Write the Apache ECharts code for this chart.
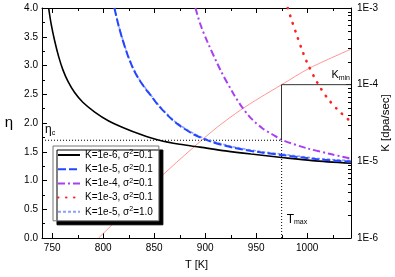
<!DOCTYPE html>
<html><head><meta charset="utf-8">
<script src="https://cdn.jsdelivr.net/npm/echarts@6/dist/echarts.min.js"></script>
<style>html,body{margin:0;padding:0;background:#fff}#c{width:395px;height:277px}</style>
</head><body><div id="c"></div>
<script>
// ---- data ----
const legendK = ['1e-6', '1e-5', '1e-4', '1e-3', '1e-5'];
const legendSigma = ['0.1', '0.1', '0.1', '0.1', '1.0'];

const T_k1e6 = [746.5, 749, 752.4, 756.4, 760.6, 765.6, 772, 780, 791.7, 805, 821, 837, 855, 875, 895, 920, 945, 975, 1005, 1043];
const eta_k1e6 = [4.00, 3.72, 3.43, 3.15, 2.92, 2.72, 2.53, 2.36, 2.19, 2.04, 1.91, 1.80, 1.70, 1.63, 1.58, 1.515, 1.46, 1.40, 1.345, 1.30];

const T_k1e5 = [811, 815, 819, 824, 829, 834, 840, 847, 853, 864, 873, 889, 905, 928, 954, 977, 1010, 1043];
const eta_k1e5 = [4.00, 3.70, 3.45, 3.18, 2.96, 2.79, 2.63, 2.47, 2.33, 2.12, 1.98, 1.80, 1.68, 1.57, 1.49, 1.44, 1.37, 1.33];
const eta_k1e5_s1 = [4.00, 3.71, 3.46, 3.19, 2.97, 2.80, 2.64, 2.48, 2.34, 2.13, 1.99, 1.815, 1.695, 1.585, 1.505, 1.455, 1.385, 1.345];

const T_k1e4 = [890.5, 895, 902, 915, 928, 936, 945, 956, 966, 976, 1000, 1023, 1043];
const eta_k1e4 = [4.00, 3.73, 3.42, 2.92, 2.50, 2.28, 2.08, 1.91, 1.80, 1.70, 1.56, 1.46, 1.38];

const T_k1e3 = [981, 985, 990, 995, 1000, 1010, 1020, 1030, 1043];
const eta_k1e3 = [4.00, 3.78, 3.52, 3.27, 3.05, 2.70, 2.43, 2.23, 2.02];

const T_kmax = [795.5, 826, 856, 888, 912, 935, 954, 975, 1003, 1043];
const K_kmax = [1e-6, 2.5e-6, 6.2e-6, 1.5e-5, 2.8e-5, 4.7e-5, 6.8e-5, 1e-4, 1.66e-4, 2.9e-4];

const T_max = 975;
const eta_c = 1.7;
const K_min = 1e-4;

const xMin = 740, xMax = 1043;
const etaMin = 0, etaMax = 4, etaStep = 0.5;
const kLow = 1e-6, kHigh = 1e-3;
const xMinorTicks = [775, 825, 875, 925, 975, 1025];
const kMinorTicks = [2e-6,3e-6,4e-6,5e-6,6e-6,7e-6,8e-6,9e-6,
                     2e-5,3e-5,4e-5,5e-5,6e-5,7e-5,8e-5,9e-5,
                     2e-4,3e-4,4e-4,5e-4,6e-4,7e-4,8e-4,9e-4];

// ---- chart ----
const FONT = 'Liberation Sans, Arial, sans-serif';
const names = legendK.map((k, i) => 'K=' + k + ', σ²=' + legendSigma[i]);
const zip = (a, b) => a.map((v, i) => [v, b[i]]);

const chart = echarts.init(document.getElementById('c'), null, {renderer: 'canvas'});

function curve(name, xs, ys, color, width, dash, z, cap) {
  return {
    name: name, type: 'line', data: zip(xs, ys), xAxisIndex: 0, yAxisIndex: 0,
    symbol: 'none', showSymbol: false, smooth: 0.3,
    lineStyle: {color: color, width: width, type: dash, cap: cap || 'butt'},
    itemStyle: {color: color}, z: z || 3, silent: true
  };
}

const axisCommon = {
  axisLine: {show: true, lineStyle: {color: '#000', width: 1}},
  axisTick: {show: true, inside: true, length: 5, lineStyle: {color: '#000'}},
  splitLine: {show: false},
  axisLabel: {color: '#000', fontSize: 10, fontFamily: FONT}
};

const option = {
  animation: false,
  backgroundColor: '#fff',
  grid: {left: 42, right: 44, top: 8, bottom: 39, containLabel: false, outerBoundsMode: 'none'},
  xAxis: [
    Object.assign({}, axisCommon, {
      type: 'value', min: xMin, max: xMax, splitNumber: 6, position: 'bottom',
      axisLabel: Object.assign({}, axisCommon.axisLabel, {margin: 5, showMinLabel: false, showMaxLabel: false,
        formatter: v => String(v)}),
      name: 'T [K]', nameLocation: 'middle', nameGap: 21, nameMoveOverlap: false,
      nameTextStyle: {color: '#000', fontSize: 11, fontFamily: FONT}
    }),
    Object.assign({}, axisCommon, {
      type: 'value', min: xMin, max: xMax, splitNumber: 6, position: 'top',
      axisLabel: {show: false}
    })
  ],
  yAxis: [
    Object.assign({}, axisCommon, {
      type: 'value', min: etaMin, max: etaMax, interval: etaStep, position: 'left',
      minorTick: {show: true, splitNumber: 2, length: 3, lineStyle: {color: '#000'}},
      minorSplitLine: {show: false},
      axisLabel: Object.assign({}, axisCommon.axisLabel, {margin: 4, formatter: v => v.toFixed(1)}),
      name: 'η', nameLocation: 'middle', nameRotate: 0, nameGap: 29,
      nameTextStyle: {color: '#000', fontSize: 15, fontFamily: FONT, padding: [12, 0, 0, 0]}
    }),
    Object.assign({}, axisCommon, {
      type: 'log', logBase: 10, min: kLow, max: kHigh, position: 'right',
      axisLabel: Object.assign({}, axisCommon.axisLabel, {margin: 6,
        formatter: v => '1E' + Math.round(Math.log10(v))}),
      name: 'K [dpa/sec]', nameLocation: 'middle', nameRotate: 90, nameGap: 29, nameMoveOverlap: false,
      nameTextStyle: {color: '#000', fontSize: 11.5, fontFamily: FONT}
    })
  ],
  legend: {
    data: names, orient: 'vertical', left: 53, top: 146,
    padding: [3, 6, 3, 4], itemWidth: 22, itemHeight: 10, itemGap: 2.2,
    backgroundColor: '#fff', borderColor: '#777', borderWidth: 1, borderRadius: 0,
    shadowColor: '#000', shadowBlur: 0, shadowOffsetX: 4, shadowOffsetY: 4,
    itemStyle: {opacity: 0},
    selectedMode: false,
    textStyle: {color: '#000', fontSize: 10, fontFamily: FONT, lineHeight: 12,
      rich: {sup: {fontSize: 7, fontFamily: FONT, color: '#000', verticalAlign: 'top', lineHeight: 12, padding: [0, 0, 4, 0]}}},
    formatter: n => n.replace('²', '{sup|2}')
  },
  series: [
    {
      name: 'Kmax', type: 'line', data: zip(T_kmax, K_kmax), xAxisIndex: 0, yAxisIndex: 1,
      symbol: 'none', smooth: 0.3, lineStyle: {color: '#ff7a7a', width: 0.8}, z: 2, silent: true
    },
    curve(names[4], T_k1e5, eta_k1e5_s1, '#8f9dff', 1.6, [3, 2], 3),
    curve(names[0], T_k1e6, eta_k1e6, '#000000', 1.6, 'solid', 4),
    curve(names[1], T_k1e5, eta_k1e5, '#2347ff', 2, [8, 3], 4),
    curve(names[2], T_k1e4, eta_k1e4, '#a93ff2', 2, [7, 3, 2, 3], 4),
    curve(names[3], T_k1e3, eta_k1e3, '#ff2222', 2.6, [0.5, 7.5], 4, 'round'),
    {
      name: 'etaC', type: 'line', data: [[xMin, eta_c], [T_max, eta_c]], xAxisIndex: 0, yAxisIndex: 0,
      symbol: 'none', lineStyle: {color: '#000', width: 1, type: [1, 2]}, z: 2, silent: true
    },
    {
      name: 'Tmax', type: 'line', data: [[T_max, etaMin], [T_max, eta_c]], xAxisIndex: 0, yAxisIndex: 0,
      symbol: 'none', lineStyle: {color: '#000', width: 1, type: [1, 2]}, z: 2, silent: true
    },
    {
      name: 'Kmin', type: 'line', data: [[T_max, K_min], [xMax, K_min]], xAxisIndex: 0, yAxisIndex: 1,
      symbol: 'none', lineStyle: {color: '#333', width: 1}, z: 2, silent: true,
      markLine: {
        silent: true, symbol: ['none', 'triangle'], symbolSize: [0, 6], label: {show: false},
        lineStyle: {color: '#333', width: 1, type: 'solid'},
        data: [[{coord: [T_max, K_min]},
                {coord: [T_max, Math.pow(10, Math.log10(kLow) + (eta_c - etaMin) / (etaMax - etaMin) * (Math.log10(kHigh) - Math.log10(kLow)))]}]]
      }
    },
    {
      name: 'xMinorTicks', type: 'custom', xAxisIndex: 0, yAxisIndex: 0, silent: true, z: 5,
      data: xMinorTicks.map(t => [t, etaMin]),
      renderItem: function (params, api) {
        const cs = params.coordSys;
        const x = Math.round(api.coord([api.value(0), etaMin])[0]) + 0.5;
        const st = {stroke: '#000', lineWidth: 1};
        return {type: 'group', children: [
          {type: 'line', shape: {x1: x, y1: cs.y + cs.height, x2: x, y2: cs.y + cs.height - 3}, style: st},
          {type: 'line', shape: {x1: x, y1: cs.y, x2: x, y2: cs.y + 3}, style: st}
        ]};
      }
    },
    {
      name: 'kMinorTicks', type: 'custom', xAxisIndex: 0, yAxisIndex: 1, silent: true, z: 5,
      data: kMinorTicks.map(k => [xMax, k]),
      renderItem: function (params, api) {
        const cs = params.coordSys;
        const y = Math.round(api.coord([api.value(0), api.value(1)])[1]) + 0.5;
        const x = cs.x + cs.width;
        return {type: 'line', shape: {x1: x, y1: y, x2: x - 3, y2: y}, style: {stroke: '#000', lineWidth: 1}};
      }
    }
  ]
};
chart.setOption(option);

// ---- annotations positioned through the axes ----
const pEta = chart.convertToPixel({xAxisIndex: 0, yAxisIndex: 0}, [xMin, eta_c]);
const pK = chart.convertToPixel({xAxisIndex: 0, yAxisIndex: 1}, [xMax, K_min]);
const pT = chart.convertToPixel({xAxisIndex: 0, yAxisIndex: 0}, [T_max, etaMin]);
chart.setOption({
  graphic: [
    {type: 'text', x: pEta[0] + 3, y: pEta[1] - 4, z: 10, silent: true,
     style: {text: '{m|η}{s|c}', verticalAlign: 'bottom', fill: '#000',
       rich: {m: {fontSize: 12, fontFamily: FONT, fill: '#000'}, s: {fontSize: 7, fontFamily: FONT, fill: '#000', padding: [6, 0, 0, 0]}}}},
    {type: 'text', x: pK[0] - 1, y: pK[1] - 3, z: 10, silent: true,
     style: {text: '{m|K}{s|min}', align: 'right', verticalAlign: 'bottom', fill: '#000',
       rich: {m: {fontSize: 11, fontFamily: FONT, fill: '#000'}, s: {fontSize: 7, fontFamily: FONT, fill: '#000', padding: [6, 0, 0, 0]}}}},
    {type: 'text', x: pT[0] + 5, y: pT[1] - 12, z: 10, silent: true,
     style: {text: '{m|T}{s|max}', align: 'left', verticalAlign: 'bottom', fill: '#000',
       rich: {m: {fontSize: 12, fontFamily: FONT, fill: '#000'}, s: {fontSize: 7, fontFamily: FONT, fill: '#000', padding: [6, 0, 0, 0]}}}}
  ]
});
</script></body></html>
